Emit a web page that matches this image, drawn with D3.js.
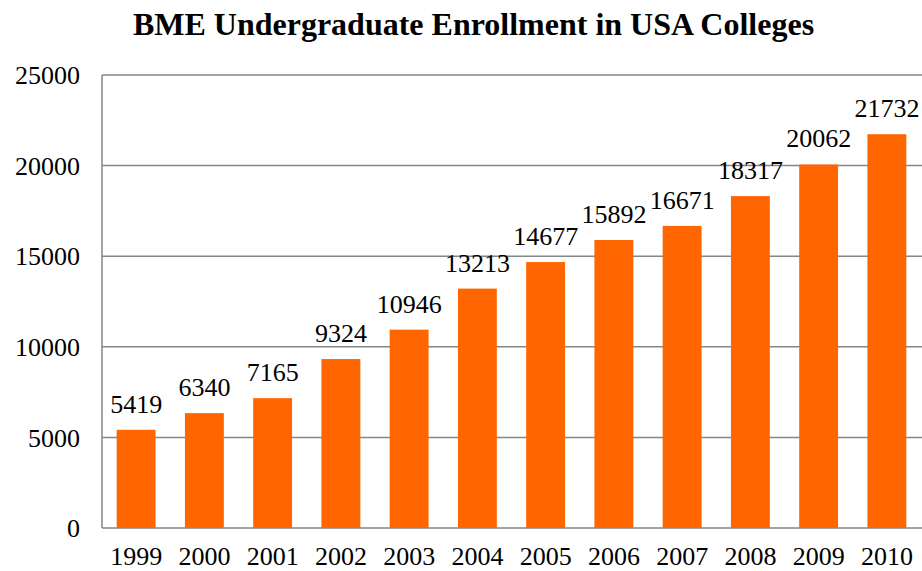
<!DOCTYPE html>
<html>
<head>
<meta charset="utf-8">
<script src="https://cdn.jsdelivr.net/npm/d3@7"></script>
<style>
  body { margin: 0; background: #fff; }
  svg { display: block; font-family: 'Liberation Serif', 'Times New Roman', serif; }
</style>
</head>
<body>
<svg id="chart" width="922" height="571"></svg>
<script>
var years = ['1999', '2000', '2001', '2002', '2003', '2004', '2005', '2006', '2007', '2008', '2009', '2010']
var enrollment = [5419, 6340, 7165, 9324, 10946, 13213, 14677, 15892, 16671, 18317, 20062, 21732]
var yTicks = [0, 5000, 10000, 15000, 20000, 25000]

var svg = d3.select('#chart')
var plotLeft = 102
var plotRight = 921
var plotTop = 75
var plotBottom = 528

var x = d3.scaleBand()
  .domain(years)
  .range([plotLeft, plotRight])
  .paddingInner(0.43)
  .paddingOuter(0.215)

var y = d3.scaleLinear()
  .domain([0, 25000])
  .range([plotBottom, plotTop])

// title
svg.append('text')
  .attr('x', 473.5)
  .attr('y', 35)
  .attr('text-anchor', 'middle')
  .style('font-size', '32px')
  .style('font-weight', 'bold')
  .text('BME Undergraduate Enrollment in USA Colleges')

// gridlines
svg.append('g')
  .selectAll('line')
  .data(yTicks)
  .join('line')
  .attr('x1', plotLeft)
  .attr('x2', 922)
  .attr('y1', function (d) { return y(d) })
  .attr('y2', function (d) { return y(d) })
  .attr('stroke', '#868686')
  .attr('stroke-width', 1.5)

// left axis line
svg.append('line')
  .attr('x1', plotLeft)
  .attr('x2', plotLeft)
  .attr('y1', plotTop)
  .attr('y2', plotBottom)
  .attr('stroke', '#868686')
  .attr('stroke-width', 1.5)

// y labels
svg.append('g')
  .selectAll('text')
  .data(yTicks)
  .join('text')
  .attr('x', 80)
  .attr('y', function (d) { return y(d) })
  .attr('dy', '0.35em')
  .attr('text-anchor', 'end')
  .style('font-size', '26px')
  .text(function (d) { return d })

// bars
svg.append('g')
  .selectAll('rect')
  .data(enrollment)
  .join('rect')
  .attr('x', function (d, i) { return x(years[i]) })
  .attr('y', function (d) { return y(d) })
  .attr('width', x.bandwidth())
  .attr('height', function (d) { return plotBottom - y(d) })
  .attr('fill', '#ff6600')

// value labels
svg.append('g')
  .selectAll('text')
  .data(enrollment)
  .join('text')
  .attr('x', function (d, i) { return x(years[i]) + x.bandwidth() / 2 })
  .attr('y', function (d) { return y(d) - 17 })
  .attr('text-anchor', 'middle')
  .style('font-size', '26px')
  .text(function (d) { return d })

// x labels
svg.append('g')
  .selectAll('text')
  .data(years)
  .join('text')
  .attr('x', function (d) { return x(d) + x.bandwidth() / 2 })
  .attr('y', 565)
  .attr('text-anchor', 'middle')
  .style('font-size', '26px')
  .text(function (d) { return d })
</script>
</body>
</html>
